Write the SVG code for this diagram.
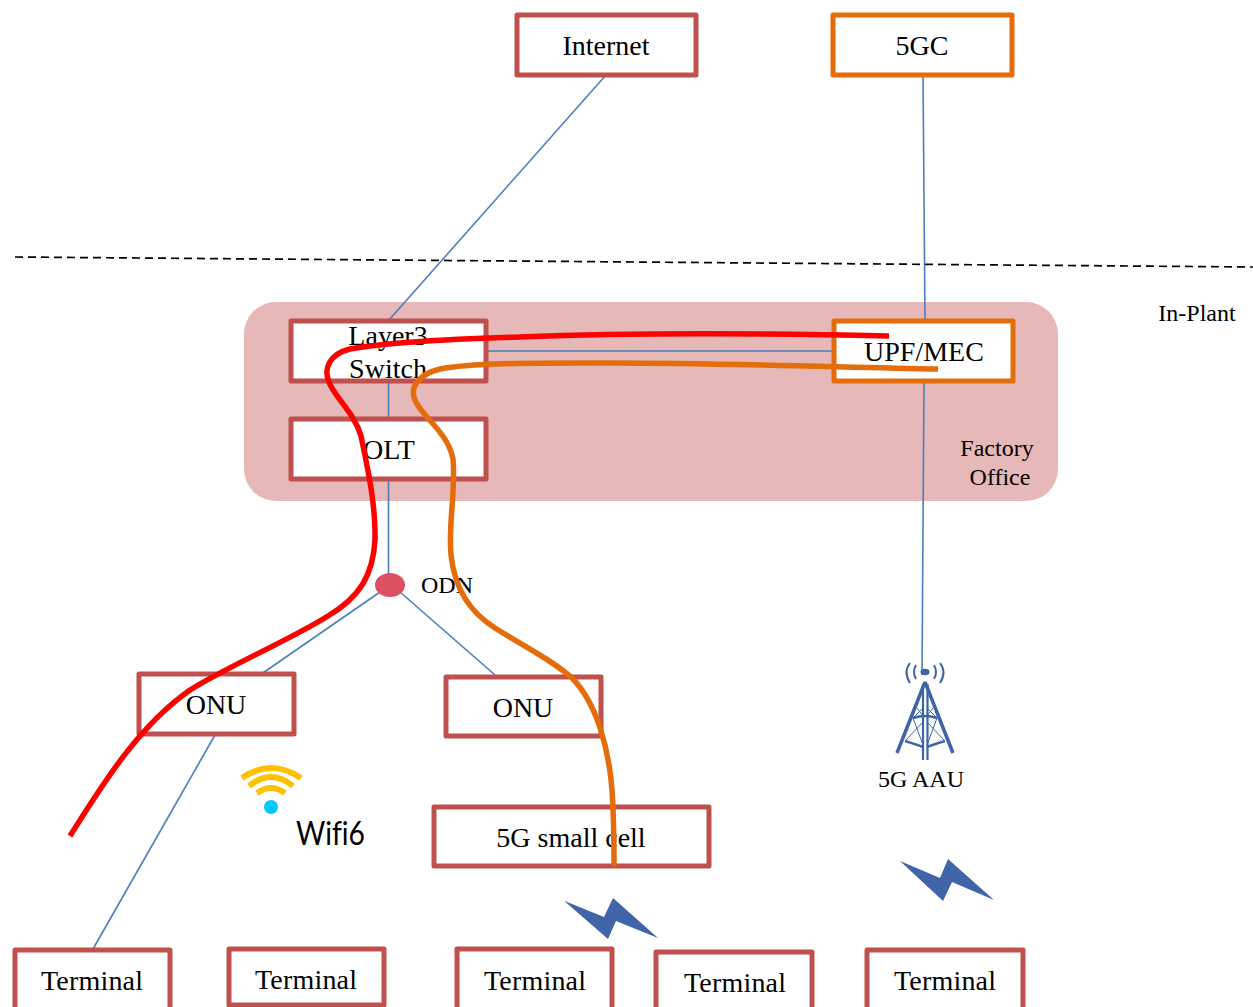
<svg xmlns="http://www.w3.org/2000/svg" width="1253" height="1007" viewBox="0 0 1253 1007">
<style>
.box{fill:#fff;stroke-width:5;stroke-linejoin:round}
.r{stroke:#c0504d}
.o{stroke:#e46c0a}
.t{font-family:"Liberation Serif",serif;fill:#000;text-anchor:middle}
.big{font-size:28px}
.small{font-size:24px}
.c{stroke:#4a7ebb;stroke-width:1.6;fill:none}
.tw{stroke:#3f64a8;fill:none}
.bolt{fill:#3f64a8}
.wf{stroke:#ffc000;stroke-width:6;fill:none}
</style>
<rect id="plant-zone" x="244" y="302" width="814" height="199" rx="32" fill="#e6b8b7"/>
<line x1="15" y1="257" x2="1253" y2="267" stroke="#000" stroke-width="1.7" stroke-dasharray="8 5"/>
<g id="connectors">
<path class="c" d="M606 75L389 320"/>
<path class="c" d="M923 75L925 320"/>
<path class="c" d="M924 381L922 675"/>
<path class="c" d="M487 351H834"/>
<path class="c" d="M388.500 381V418"/>
<path class="c" d="M388.500 480V585"/>
<path class="c" d="M380 592L260 675"/>
<path class="c" d="M400 592L495 675"/>
<path class="c" d="M215 735L93 949"/>
</g>
<g id="internet"><rect class="box r" x="517" y="15" width="179" height="60"/><text class="t big" x="606" y="55">Internet</text></g>
<g id="fivegc"><rect class="box o" x="833" y="15" width="179" height="60"/><text class="t big" x="922" y="55">5GC</text></g>
<g id="layer3"><rect class="box r" x="291" y="321" width="195" height="60"/><text class="t big" x="388" y="345">Layer3</text><text class="t big" x="388" y="378">Switch</text></g>
<g id="upf"><rect class="box o" x="834" y="321" width="179" height="60"/><text class="t big" x="924" y="361">UPF/MEC</text></g>
<g id="olt"><rect class="box r" x="291" y="419" width="195" height="60"/><text class="t big" x="389" y="459">OLT</text></g>
<g id="odn"><ellipse cx="390" cy="585" rx="15" ry="12" fill="#dd5064"/><text class="t small" x="447" y="593">ODN</text></g>
<g id="onu1"><rect class="box r" x="139" y="674" width="155" height="60"/><text class="t big" x="216" y="714">ONU</text></g>
<g id="onu2"><rect class="box r" x="446" y="677" width="155" height="59"/><text class="t big" x="523" y="717">ONU</text></g>
<g id="smallcell"><rect class="box r" x="434" y="807" width="275" height="59"/><text class="t big" x="571" y="847">5G small cell</text></g>
<g id="term1"><path class="box r" d="M15 1007V950H170V1007"/><text class="t big" x="92" y="990" textLength="102">Terminal</text></g>
<g id="term2"><path class="box r" d="M229 1005V949H384V1005Z"/><text class="t big" x="306" y="989" textLength="102">Terminal</text></g>
<g id="term3"><path class="box r" d="M457 1007V949H612V1007"/><text class="t big" x="535" y="990" textLength="102">Terminal</text></g>
<g id="term4"><path class="box r" d="M656 1007V952H812V1007"/><text class="t big" x="735" y="992" textLength="102">Terminal</text></g>
<g id="term5"><path class="box r" d="M867 1007V950H1023V1007"/><text class="t big" x="945" y="990" textLength="102">Terminal</text></g>
<g id="labels"><text class="t small" x="1197" y="321">In-Plant</text><text class="t small" x="997" y="456">Factory</text><text class="t small" x="1000" y="485">Office</text></g>
<g id="aau">
<ellipse cx="925" cy="672" rx="4.500" ry="3.200" fill="#3f64a8"/>
<path class="tw" stroke-width="2" d="M916 665Q912 672 916 679M934 665Q938 672 934 679M910 663Q903 672 910 683M940 663Q947 672 940 683"/>
<path class="tw" stroke-width="3.500" d="M925 682L897 753M925 682L953 753"/>
<path class="tw" stroke-width="2.200" d="M923 684V760M927.500 684V760"/>
<path class="tw" stroke-width="2.500" d="M913 718Q925 714 937 718M905 741Q918 745 923 747M945 741Q932 745 927 747"/>
<path class="tw" stroke-width="1" d="M913 718L923 745M937 718L927 745M906 740L923 722M944 740L927 722M917 708L923 716M933 708L927 716M913 718L923 708M937 718L927 708"/>
<text class="t small" x="921" y="787">5G AAU</text>
</g>
<g id="wifi">
<path class="wf" d="M242 778Q271 758 301 778"/>
<path class="wf" d="M249 786Q271 768 293 786"/>
<path class="wf" d="M257 793Q271 783 285 793"/>
<circle cx="271" cy="807" r="7" fill="#00c8ff"/>
<text x="296" y="845" font-family="Lato,sans-serif" font-size="33" fill="#000" style="font-variant-ligatures:none" textLength="69" lengthAdjust="spacingAndGlyphs">Wifi6</text>
</g>
<polygon id="bolt1" class="bolt" points="564,900.700 604,917 613,898 658,938 616,921 608,939"/>
<polygon id="bolt2" class="bolt" points="900,861 940,878 948,859 994,900 952,882 943,901"/>
<g id="paths" fill="none" stroke-width="5.500">
<path stroke="#ff0000" d="M889 336C760 333 620 333 520 337C450 339 390 342 350 349C330 354 323 368 329 382C335 398 354 412 361 436C367 465 376 505 375 540C373 575 360 597 328 616C290 640 230 665 190 690C140 725 105 780 70 836"/>
<path stroke="#e46c0a" d="M938 369C800 366 680 362 590 363C530 363 470 363 440 369C420 374 409 386 415 400C421 416 448 432 453 459C456 490 448 525 451 555C455 590 470 612 495 628C525 647 552 660 572 678C597 703 609 750 612 790C614 820 614 845 614 866"/>
</g>
</svg>
